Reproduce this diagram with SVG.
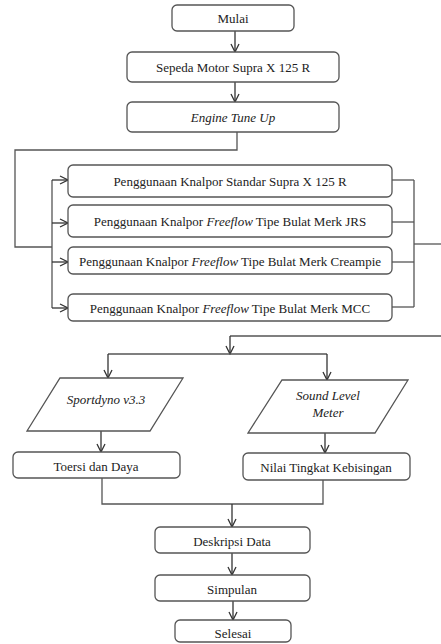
<svg xmlns="http://www.w3.org/2000/svg" width="441" height="644" viewBox="0 0 441 644" font-family="'Liberation Serif', 'Times New Roman', 'DejaVu Serif', serif">
<style>
.box{fill:#fff;stroke:#555;stroke-width:1.3}
.ln{fill:none;stroke:#555;stroke-width:1.3}
.ar{fill:none;stroke:#333;stroke-width:1.3;marker-end:url(#ah)}
text{font-family:'Liberation Serif','Times New Roman','DejaVu Serif',serif;font-size:13px;fill:#222;text-anchor:middle;dominant-baseline:central}
.it{font-style:italic}
</style>
<defs>
<marker id="ah" viewBox="0 0 10 10" refX="9" refY="5" markerWidth="10" markerHeight="10" markerUnits="userSpaceOnUse" orient="auto">
<path d="M1,1 L9,5 L1,9" fill="none" stroke="#333" stroke-width="1.3"/>
</marker>
</defs>
<rect width="441" height="644" fill="#fff"/>
<g id="connectors">
<line class="ar" x1="235" y1="31" x2="235" y2="52"/>
<line class="ar" x1="235" y1="82" x2="235" y2="102"/>
<polyline class="ln" points="237,132 237,150 15,150 15,247 52,247"/>
<line class="ln" x1="52" y1="180" x2="52" y2="308"/>
<line class="ar" x1="52" y1="180" x2="68" y2="180"/>
<line class="ar" x1="52" y1="223" x2="68" y2="223"/>
<line class="ar" x1="52" y1="262" x2="68" y2="262"/>
<line class="ar" x1="52" y1="308" x2="68" y2="308"/>
<line class="ln" x1="392" y1="180" x2="414" y2="180"/>
<line class="ln" x1="392" y1="222" x2="414" y2="222"/>
<line class="ln" x1="392" y1="262" x2="414" y2="262"/>
<line class="ln" x1="392" y1="307" x2="414" y2="307"/>
<line class="ln" x1="414" y1="180" x2="414" y2="307"/>
<line class="ln" x1="414" y1="244" x2="441" y2="244"/>
<line class="ln" x1="230" y1="336" x2="441" y2="336"/>
<line class="ar" x1="230" y1="336" x2="230" y2="354"/>
<line class="ln" x1="108" y1="354" x2="327" y2="354"/>
<line class="ar" x1="108" y1="354" x2="108" y2="378"/>
<line class="ar" x1="327" y1="354" x2="327" y2="380"/>
<line class="ar" x1="101" y1="431" x2="101" y2="452"/>
<line class="ar" x1="325" y1="433" x2="325" y2="453"/>
<polyline class="ln" points="102,478 102,504 323,504 323,480"/>
<line class="ar" x1="232" y1="504" x2="232" y2="527"/>
<line class="ar" x1="232" y1="553" x2="232" y2="575"/>
<line class="ar" x1="233" y1="601" x2="233" y2="620"/>
</g>
<g id="mulai"><rect class="box" x="172" y="5" width="122" height="26" rx="5"/><text x="233" y="18">Mulai</text></g>
<g id="sepeda"><rect class="box" x="127" y="52" width="212" height="30" rx="5"/><text x="233" y="67">Sepeda Motor Supra X 125 R</text></g>
<g id="engine"><rect class="box" x="127" y="102" width="212" height="30" rx="5"/><text x="233" y="117" class="it">Engine Tune Up</text></g>
<g id="standar"><rect class="box" x="68" y="165" width="324" height="32" rx="5"/><text x="230" y="181">Penggunaan Knalpor Standar Supra X 125 R</text></g>
<g id="jrs"><rect class="box" x="68" y="205" width="324" height="32" rx="5"/><text x="230" y="221">Penggunaan Knalpor <tspan class="it">Freeflow</tspan> Tipe Bulat Merk JRS</text></g>
<g id="creampie"><rect class="box" x="68" y="247" width="324" height="27" rx="5"/><text x="230" y="261">Penggunaan Knalpor <tspan class="it">Freeflow</tspan> Tipe Bulat Merk Creampie</text></g>
<g id="mcc"><rect class="box" x="68" y="294" width="324" height="27" rx="5"/><text x="230" y="308">Penggunaan Knalpor <tspan class="it">Freeflow</tspan> Tipe Bulat Merk MCC</text></g>
<g id="sportdyno"><polygon class="box" points="60,378 183,378 150,431 27,431"/><text x="106" y="399" class="it">Sportdyno v3.3</text></g>
<g id="slm"><polygon class="box" points="282,380 408,380 375,433 248,433"/><text x="328" y="395" class="it">Sound Level</text><text x="328" y="412" class="it">Meter</text></g>
<g id="toersi"><rect class="box" x="13" y="452" width="167" height="26" rx="5"/><text x="96" y="466">Toersi  dan Daya</text></g>
<g id="nilai"><rect class="box" x="243" y="453" width="167" height="27" rx="5"/><text x="326" y="467">Nilai Tingkat Kebisingan</text></g>
<g id="deskripsi"><rect class="box" x="155" y="527" width="155" height="26" rx="5"/><text x="232" y="541">Deskripsi Data</text></g>
<g id="simpulan"><rect class="box" x="155" y="575" width="155" height="26" rx="5"/><text x="232" y="589">Simpulan</text></g>
<g id="selesai"><rect class="box" x="175" y="620" width="116" height="22" rx="5"/><text x="233" y="633">Selesai</text></g>
</svg>
